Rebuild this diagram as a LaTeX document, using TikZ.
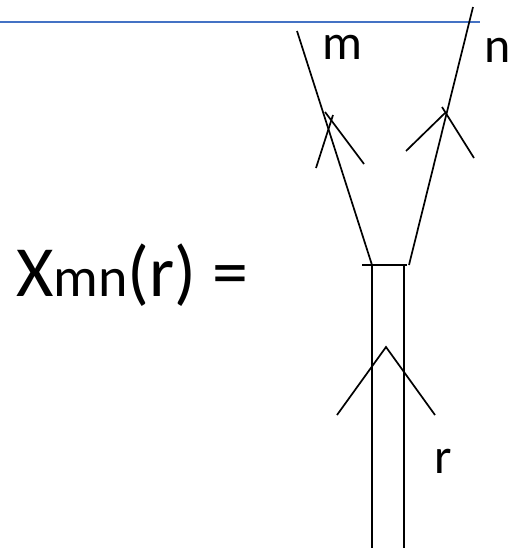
\documentclass[tikz,border=0pt]{standalone}
\usepackage{fontspec}
\setmainfont{Carlito}
\usetikzlibrary{positioning,calc}

\begin{document}
\begin{tikzpicture}[x=1pt, y=-1pt,
  leg/.style={line width=1.7pt, black},
  chev/.style={line width=1.7pt, black},
  rule/.style={line width=2.2pt, draw={rgb,255:red,68;green,114;blue,196}},
  lbl/.style={font=\fontsize{50}{50}\selectfont, inner sep=0pt, anchor=base}
]
  \useasboundingbox (0,0) rectangle (514,552);

  % Punkte
  \coordinate (mtop) at (297,31);
  \coordinate (mbot) at (372,265);
  \coordinate (ntop) at (473,7);
  \coordinate (nbot) at (409,265);
  \coordinate (barL) at (362,265);
  \coordinate (barR) at (407,265);
  \coordinate (rLtop) at (372,265);
  \coordinate (rLbot) at (372,548);
  \coordinate (rRtop) at (404,265);
  \coordinate (rRbot) at (404,548);

  % Linie oben
  \draw[rule] (0,22) -- (480,22);

  % Beine m, n
  \draw[leg] (mtop) -- (mbot);
  \draw[leg] (ntop) -- (nbot);
  \draw[leg] (barL) -- (barR);

  % Stamm r
  \draw[leg] (rLtop) -- (rLbot);
  \draw[leg] (rRtop) -- (rRbot);

  % Pfeile
  \draw[chev] (316,168) -- (333,115);
  \draw[chev] (325,112) -- (364,164);
  \draw[chev] (406,151) -- (445,113);
  \draw[chev] (442,107) -- (474,158);
  \draw[chev] (337,415) -- (386,347) -- (435,415);

  % Beschriftungen
  \node[lbl] (mlab) at (342,59) {m};
  \node[lbl] (nlab) at (498,62) {n};
  \node[lbl] (rlab) at (443,473) {r};

  \node[inner sep=0pt, anchor=base west] (xmn) at (16,296)
    {\fontsize{72}{72}\selectfont X\fontsize{56}{56}\selectfont mn\fontsize{72}{72}\selectfont (r) =};
\end{tikzpicture}
\end{document}
